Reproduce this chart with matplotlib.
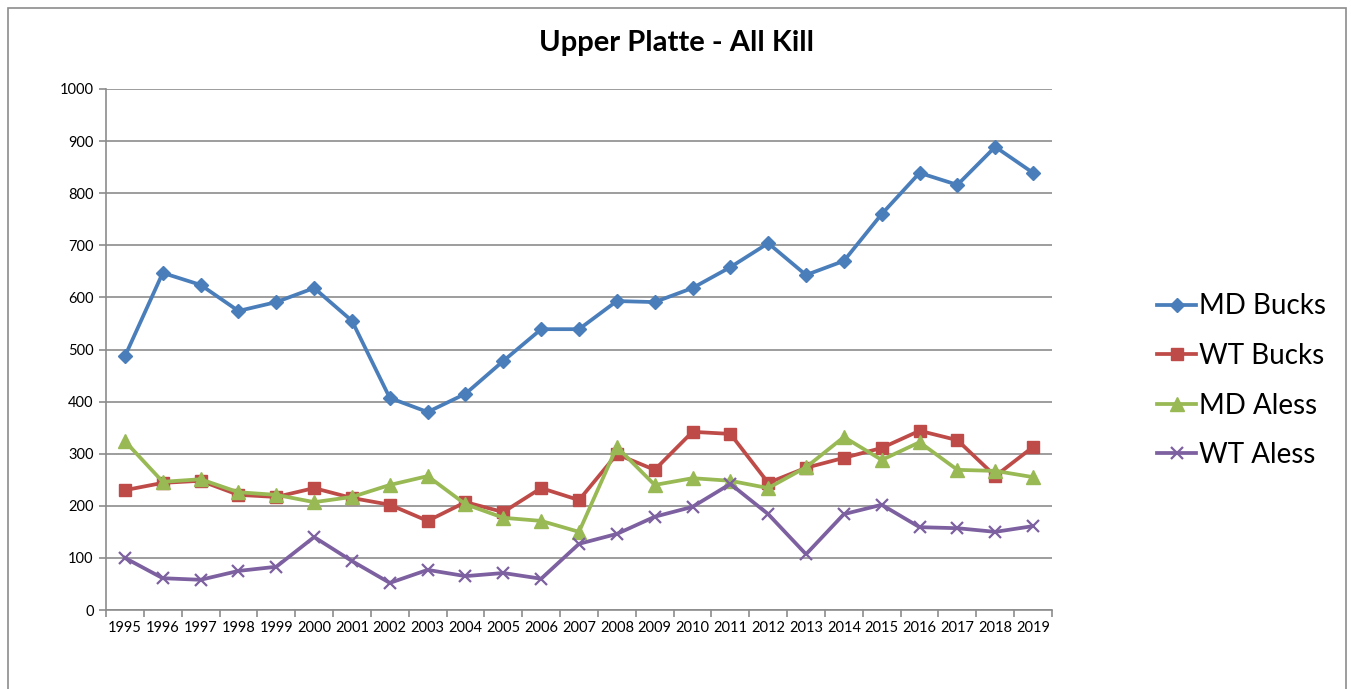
import matplotlib.pyplot as plt
from matplotlib.patches import Rectangle
import numpy as np

plt.rcParams['font.family'] = ['Lato', 'DejaVu Sans']

years = [str(y) for y in range(1995, 2020)]

md_bucks = [487, 647, 624, 574, 591, 618, 555, 407, 380, 415, 478, 539, 539,
            593, 591, 618, 658, 704, 643, 670, 760, 839, 816, 889, 839]
wt_bucks = [230, 244, 248, 221, 217, 234, 215, 202, 171, 207, 188, 234, 211,
            299, 269, 342, 338, 244, 273, 292, 311, 344, 326, 257, 313]
md_aless = [324, 246, 251, 226, 221, 207, 217, 240, 257, 203, 177, 171, 150,
            313, 240, 253, 248, 234, 274, 332, 288, 322, 269, 267, 255]
wt_aless = [100, 61, 58, 75, 83, 140, 94, 52, 77, 65, 71, 60, 127,
            146, 179, 198, 242, 184, 107, 184, 202, 159, 157, 150, 161]

fig = plt.figure(figsize=(13.51, 6.89), dpi=100)
ax = fig.add_axes([106 / 1351, 1 - 610 / 689, (1052 - 106) / 1351, (610 - 89) / 689])

# outer chart border
fig.patches.append(Rectangle((8 / 1351, -0.01), 1338 / 1351, 1 - 8 / 689 + 0.01,
                             transform=fig.transFigure, fill=False,
                             edgecolor='#8c8c8c', linewidth=1.2))

x = np.arange(len(years))
ax.plot(x, md_bucks, color='#4A7EBB', lw=2.7, marker='D', ms=7.5, label='MD Bucks')
ax.plot(x, wt_bucks, color='#BE4B48', lw=2.7, marker='s', ms=9, label='WT Bucks')
ax.plot(x, md_aless, color='#98B954', lw=2.7, marker='^', ms=9.5, label='MD Aless')
ax.plot(x, wt_aless, color='#7D60A0', lw=2.7, marker='x', ms=8, mew=1.6, label='WT Aless')

ax.set_xlim(-0.5, len(years) - 0.5)
ax.set_ylim(0, 1000)
ax.set_yticks(range(0, 1001, 100))
ax.yaxis.grid(True, color='#8c8c8c', linewidth=1.2)
ax.set_axisbelow(True)

ax.set_xticks(x)
ax.set_xticklabels(years, fontsize=10.5)
ax.set_xticks(np.arange(-0.5, len(years), 1), minor=True)
ax.tick_params(axis='x', which='major', length=0, pad=8)
ax.tick_params(axis='x', which='minor', length=5, color='#8c8c8c', width=1.2)
ax.tick_params(axis='y', length=5, color='#8c8c8c', width=1.2, labelsize=10.5, pad=4)

for s in ['top', 'right']:
    ax.spines[s].set_visible(False)
for s in ['left', 'bottom']:
    ax.spines[s].set_color('#8c8c8c')
    ax.spines[s].set_linewidth(1.2)

fig.text(677 / 1351, 1 - 43 / 689, 'Upper Platte - All Kill',
         ha='center', va='center', fontsize=21, fontweight='bold')

ax.legend(loc='center left', bbox_to_anchor=(1.085, 0.44), frameon=False,
          fontsize=20, handlelength=1.4, handletextpad=0.1, labelspacing=0.85)

fig.savefig('out.png', dpi=100)
